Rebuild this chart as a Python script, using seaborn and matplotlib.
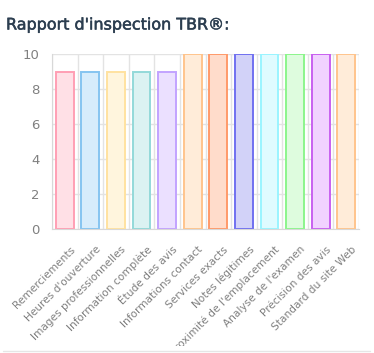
import matplotlib
matplotlib.use("Agg")
import matplotlib.pyplot as plt
import matplotlib.transforms as mtransforms
import matplotlib.patheffects as pe
import seaborn as sns
from matplotlib.transforms import Bbox

categories = [
    "Remerciements", "Heures d'ouverture", "Images professionnelles",
    "Information complète", "Étude des avis", "Informations contact",
    "Services exacts", "Notes légitimes", "Proximité de l'emplacement",
    "Analyse de l'examen", "Précision des avis", "Standard du site Web",
]
scores = [9, 9, 9, 9, 9, 10, 10, 10, 10, 10, 10, 10]
fills = ["#FFE0E6", "#D7ECFB", "#FFF5DD", "#DBF2F2", "#EBE0FF", "#FFECD9",
         "#FFDCCB", "#D2D2F8", "#DFFBFF", "#DEFCDE", "#F1D2FF", "#FFECD9"]
edges = ["#FF9FB4", "#86C4F0", "#FFE2A0", "#93D9D9", "#C2A3FF", "#FFC48C",
         "#FF9A6A", "#7070F0", "#9AF4FF", "#8CF58C", "#C860F0", "#FFC48C"]

sns.set_style("white")
plt.rcParams['font.family'] = ['DejaVu Sans']

fig = plt.figure(figsize=(3.74, 3.53), dpi=100)
ax = fig.add_axes([52 / 374, 1 - 229 / 353, 307 / 374, 175 / 353])

sns.barplot(x=categories, y=scores, hue=categories, palette=fills,
            legend=False, width=0.7, ax=ax, saturation=1)
for p, ec in zip(ax.patches, edges):
    p.set_edgecolor(ec)
    p.set_linewidth(1.4)

ax.set_ylim(0, 10)
ax.set_xlim(-0.5, len(categories) - 0.5)
ax.set_yticks(range(0, 11, 2))
ax.set_xticks([i - 0.5 for i in range(len(categories) + 1)])
ax.set_xticklabels([])
ax.set_xticks(range(len(categories)), minor=True)
ax.set_xticklabels(categories, minor=True, rotation=45, ha="right",
                   rotation_mode="anchor", fontsize=7.6, color="#808080")
ax.tick_params(axis="x", which="major", length=7, color="#e3e3e3", width=1)
ax.tick_params(axis="x", which="minor", length=0, pad=11)
ax.tick_params(axis="y", length=7, color="#e3e3e3", labelsize=9.5,
               labelcolor="#808080", pad=2)
ax.grid(True, which="major", color="#e3e3e3", linewidth=1)
ax.set_axisbelow(True)
for s in ax.spines.values():
    s.set_visible(False)
ax.spines["left"].set_visible(True)
ax.spines["left"].set_color("#d8d8d8")
ax.spines["bottom"].set_visible(True)
ax.spines["bottom"].set_color("#d8d8d8")

# the card cuts the longest label at its bottom edge, as in the original
clip = Bbox.from_extents(0, 353 - 346, 374, 353)
shift = mtransforms.ScaledTranslation(5 / 100, 0, fig.dpi_scale_trans)
for t in ax.get_xticklabels(minor=True):
    t.set_transform(t.get_transform() + shift)
    t.set_clip_on(True)
    t.set_clip_box(clip)

fig.text(6 / 374, 1 - 25 / 353, "Rapport d'inspection TBR®:", fontsize=11.5,
         color="#2c3e50", va="center", ha="left",
         path_effects=[pe.withStroke(linewidth=0.35, foreground="#2c3e50")])
fig.add_artist(plt.Line2D([3 / 374, 370 / 374], [2 / 353, 2 / 353],
                          color="#e6e6e6", linewidth=1))

fig.savefig("out.png", dpi=100)
